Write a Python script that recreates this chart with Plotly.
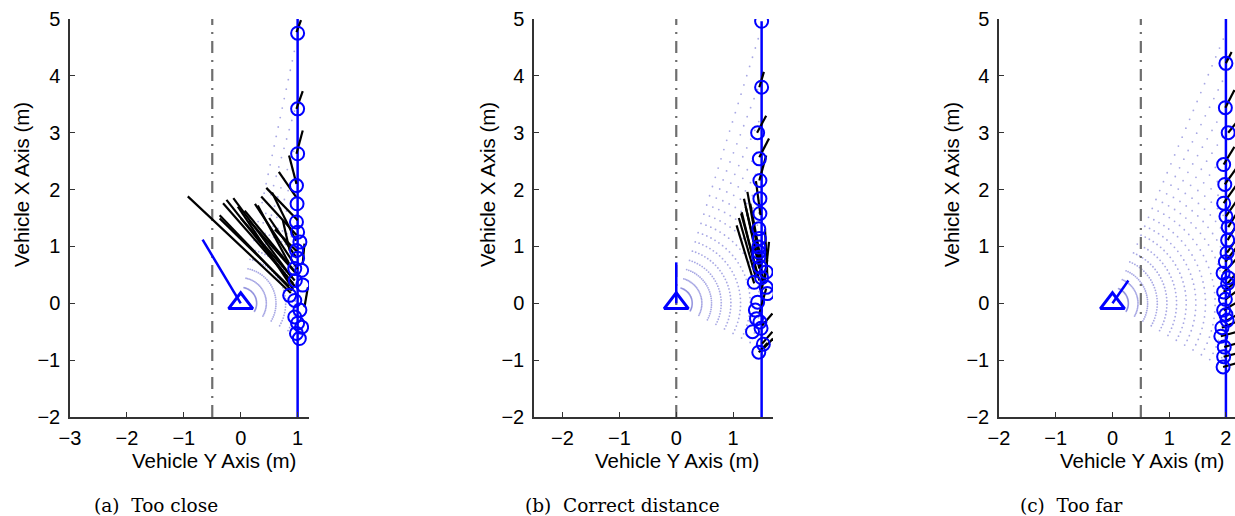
import numpy as np
import plotly.graph_objects as go

FIG_W, FIG_H = 1235, 516

# ---------------- data ----------------
captions = ["(a)\u00a0\u00a0Too close", "(b)\u00a0\u00a0Correct distance", "(c)\u00a0\u00a0Too far"]
x_title = "Vehicle Y Axis (m)"
y_title = "Vehicle X Axis (m)"

x_tick_vals = [[-3, -2, -1, 0, 1], [-2, -1, 0, 1], [-2, -1, 0, 1, 2]]
y_tick_vals = [-2, -1, 0, 1, 2, 3, 4, 5]
x_ranges = [[-3.0, 1.2], [-2.5, 1.7], [-2.0, 2.16]]
y_range = [-2.0, 5.0]

wall_x = [1.0, 1.5, 2.0]
wall_y_top = [5.0, 4.96, 5.0]
wall_y_bottom = [-2.0, -2.0, -2.0]
guide_x = [-0.5, 0.0, 0.5]

vehicle_x = [0.0, 0.0, 0.0]
vehicle_y = [0.0, 0.0, 0.0]
heading_x = [-0.67, 0.0, 0.28]
heading_y = [1.12, 0.72, 0.40]

# sonar fan: arc radii (m) and angular limits (deg) per panel
sonar_radii = [0.28, 0.45, 0.62, 0.79, 0.96, 1.13, 1.30, 1.47, 1.64, 1.81, 1.98,
               2.15, 2.32, 2.49, 2.66, 2.83, 3.00, 3.17, 3.34, 3.51, 3.68, 3.85,
               4.02, 4.19, 4.36, 4.53, 4.70, 4.87, 5.04, 5.21, 5.38, 5.55, 5.72, 5.89]
sonar_angle_lo = [-30.0, -28.0, -30.0]
sonar_angle_hi = [78.0, 73.5, 70.0]
sonar_angle_step = 3.6

# detected wall points (circles)
circ_x = [
    [1.00, 1.00, 1.00, 0.98, 0.99, 0.98, 1.00, 1.04, 0.98, 1.00, 0.95, 1.07, 0.96, 1.09,
     0.86, 0.95, 1.04, 0.95, 1.00, 1.07, 0.98, 1.03],
    [1.50, 1.50, 1.43, 1.46, 1.47, 1.47, 1.47, 1.45, 1.46, 1.45, 1.45, 1.47, 1.58, 1.37,
     1.58, 1.60, 1.43, 1.39, 1.41, 1.47, 1.34, 1.49, 1.53, 1.45, 1.45, 1.50],
    [2.00, 1.99, 2.04, 1.96, 1.98, 1.96, 2.00, 2.04, 2.03, 2.02, 1.99, 1.95, 2.03, 1.96,
     1.99, 1.96, 2.02, 1.93, 1.91, 1.97, 1.96, 1.95, 2.04, 2.00],
]
circ_y = [
    [4.75, 3.42, 2.63, 2.07, 1.75, 1.43, 1.25, 1.08, 0.93, 0.79, 0.61, 0.58, 0.40, 0.32,
     0.14, 0.05, -0.12, -0.24, -0.35, -0.42, -0.53, -0.62],
    [4.96, 3.80, 3.00, 2.54, 2.16, 1.84, 1.58, 1.31, 1.14, 0.99, 0.81, 0.64, 0.55, 0.37,
     0.28, 0.17, 0.02, -0.12, -0.27, -0.33, -0.50, -0.44, -0.72, -0.86, 0.90, 0.45],
    [4.22, 3.44, 3.00, 2.44, 2.09, 1.76, 1.53, 1.34, 1.11, 0.89, 0.73, 0.53, 0.35, 0.20,
     0.07, -0.12, -0.30, -0.43, -0.58, -0.77, -0.94, -1.12, 0.45, -0.20],
]

# black line segments (start -> end)
seg_x0 = [
    [-0.93, -0.37, -0.37, -0.31, -0.25, -0.13, 0.07, 0.25, 0.36, 0.45, 0.67, 0.85, 0.30,
     0.74, 1.12, 1.18, 0.98, 0.98, 0.98, 0.00, 0.15, 0.50, 0.60, -0.05, 0.55],
    [1.46, 1.42, 1.46, 1.46, 1.40, 1.25, 1.19, 1.15, 1.06, 1.30, 1.35, 1.63, 1.60, 1.58,
     1.51, 1.53, 1.45, 1.51, 1.56, 1.14, 1.10, 1.22],
    [2.00, 1.99, 2.04, 1.96, 1.98, 1.96, 2.00, 2.04, 2.03, 2.02, 1.99, 1.95, 2.03, 1.96,
     1.99, 1.96, 2.02, 1.93, 1.91, 1.97, 1.96, 1.95],
]
seg_y0 = [
    [1.88, 1.55, 1.49, 1.76, 1.82, 1.85, 1.63, 1.75, 1.88, 2.03, 2.31, 2.60, 1.72,
     1.46, 1.05, 0.28, 4.77, 3.42, 2.63, 1.50, 1.45, 1.50, 1.30, 1.70, 1.95],
    [3.80, 3.00, 2.57, 2.16, 2.15, 1.96, 1.84, 1.60, 1.37, 1.75, 1.45, 1.08, 0.76, 0.26,
     -0.71, -0.80, -0.86, -0.39, 1.30, 1.58, 1.50, 1.70],
    [4.22, 3.44, 3.00, 2.44, 2.09, 1.76, 1.53, 1.34, 1.11, 0.89, 0.73, 0.53, 0.35, 0.20,
     0.07, -0.12, -0.30, -0.43, -0.58, -0.77, -0.94, -1.12],
]
seg_x1 = [
    [0.88, 0.90, 0.85, 0.92, 0.95, 0.90, 1.00, 1.00, 0.98, 1.00, 0.98, 0.98, 0.85,
     0.86, 1.09, 1.12, 1.06, 1.09, 1.09, 0.95, 0.95, 0.98, 1.00, 0.92, 0.97],
    [1.54, 1.58, 1.63, 1.58, 1.48, 1.45, 1.46, 1.43, 1.37, 1.50, 1.52, 1.55, 1.49, 1.46,
     1.69, 1.70, 1.60, 1.69, 1.60, 1.46, 1.40, 1.48],
    [2.10, 2.15, 2.20, 2.15, 2.20, 2.20, 2.20, 2.20, 2.20, 2.20, 2.20, 2.20, 2.20, 2.20,
     2.20, 2.20, 2.20, 2.20, 2.20, 2.20, 2.20, 2.20],
]
seg_y1 = [
    [0.18, 0.22, 0.30, 0.35, 0.30, 0.45, 0.50, 0.60, 1.20, 1.46, 1.86, 2.10, 0.70,
     0.93, 0.70, -0.07, 4.98, 3.73, 3.04, 0.40, 0.55, 0.80, 0.90, 0.25, 1.10],
    [4.07, 3.30, 2.90, 2.60, 1.55, 0.87, 0.61, 0.46, 0.35, 0.70, 0.40, 0.35, 0.17, -0.18,
     -0.50, -0.62, -0.70, -0.18, 0.50, 0.40, 0.45, 0.60],
    [4.42, 3.75, 3.20, 2.75, 2.40, 2.10, 1.82, 1.60, 1.40, 1.15, 1.00, 0.80, 0.55, 0.40,
     0.22, 0.02, -0.20, -0.32, -0.50, -0.70, -0.88, -1.05],
]

# ---------------- layout geometry (pixels of the 1235x516 page) ----------------
plot_left_px = [70, 534, 999]
plot_right_px = [309, 773, 1235]
plot_top_px, plot_bottom_px = 19, 417
xtitle_center_px = [214, 677, 1142]
ytitle_center_px = [22, 488, 952]
caption_center_px = [156, 622, 1071]
xtitle_y_px, ytitle_y_px, caption_y_px = 460, 185, 505


def px_x(p):
    return p / FIG_W


def px_y(p):
    return 1 - p / FIG_H


BLUE = "rgb(0,0,255)"
AXC = "#333333"

fig = go.Figure()

for i in range(3):
    xa = "x" if i == 0 else f"x{i+1}"
    ya = "y" if i == 0 else f"y{i+1}"

    # sonar dots
    angs = np.deg2rad(np.arange(sonar_angle_lo[i], sonar_angle_hi[i] + 1e-6, sonar_angle_step))
    R, A = np.meshgrid(np.array(sonar_radii), angs)
    dx = (R * np.cos(A)).ravel()
    dy = (R * np.sin(A)).ravel()
    keep = (dx < wall_x[i] - 0.04) & (dy <= 5.0)
    fig.add_trace(go.Scatter(x=dx[keep], y=dy[keep], mode="markers", xaxis=xa, yaxis=ya,
                             marker=dict(size=1.8, color="rgba(110,110,210,0.6)"),
                             hoverinfo="skip", showlegend=False))

    # dash-dot guide line
    fig.add_trace(go.Scatter(x=[guide_x[i], guide_x[i]], y=[y_range[0], y_range[1]],
                             mode="lines", xaxis=xa, yaxis=ya,
                             line=dict(color="rgb(110,110,110)", width=2.2,
                                       dash="12px,7px,2px,7px"),
                             hoverinfo="skip", showlegend=False))

    # wall line
    fig.add_trace(go.Scatter(x=[wall_x[i], wall_x[i]], y=[wall_y_bottom[i], wall_y_top[i]],
                             mode="lines", xaxis=xa, yaxis=ya,
                             line=dict(color=BLUE, width=2.5),
                             hoverinfo="skip", showlegend=False))

    # black segments
    sx, sy = [], []
    for a, b, c, d in zip(seg_x0[i], seg_y0[i], seg_x1[i], seg_y1[i]):
        sx += [a, c, None]
        sy += [b, d, None]
    fig.add_trace(go.Scatter(x=sx, y=sy, mode="lines", xaxis=xa, yaxis=ya,
                             line=dict(color="black", width=2.2),
                             hoverinfo="skip", showlegend=False))

    # circles
    fig.add_trace(go.Scatter(x=circ_x[i], y=circ_y[i], mode="markers", xaxis=xa, yaxis=ya,
                             marker=dict(symbol="circle-open", size=13, color=BLUE,
                                         line=dict(color=BLUE, width=2)),
                             cliponaxis=True, hoverinfo="skip", showlegend=False))

    # heading line
    fig.add_trace(go.Scatter(x=[vehicle_x[i], heading_x[i]], y=[vehicle_y[i], heading_y[i]],
                             mode="lines", xaxis=xa, yaxis=ya,
                             line=dict(color=BLUE, width=2.5),
                             hoverinfo="skip", showlegend=False))
    # vehicle triangle
    fig.add_trace(go.Scatter(x=[vehicle_x[i]], y=[vehicle_y[i]], mode="markers",
                             xaxis=xa, yaxis=ya,
                             marker=dict(symbol="triangle-up-open", size=21, color=BLUE,
                                         line=dict(color=BLUE, width=3)),
                             hoverinfo="skip", showlegend=False))

layout = dict(
    width=FIG_W, height=FIG_H, autosize=False,
    margin=dict(l=0, r=0, t=0, b=0, autoexpand=False),
    paper_bgcolor="white", plot_bgcolor="white",
    font=dict(family="Liberation Sans, Arial, sans-serif", size=20, color="black"),
    showlegend=False,
)

y_dom = [px_y(plot_bottom_px), px_y(plot_top_px)]
annotations = []
for i in range(3):
    sfx = "" if i == 0 else str(i + 1)
    layout["xaxis" + sfx] = dict(
        domain=[max(0.0, px_x(plot_left_px[i])), min(1.0, px_x(plot_right_px[i]))],
        range=x_ranges[i], tickvals=x_tick_vals[i], automargin=False,
        ticks="inside", ticklen=5, tickwidth=1.3, tickcolor=AXC,
        showline=True, linecolor=AXC, linewidth=1.5, mirror=False,
        showgrid=False, zeroline=False, anchor="y" + sfx,
        tickfont=dict(size=20, color="black"), ticklabelstandoff=2,
    )
    layout["yaxis" + sfx] = dict(
        domain=y_dom, range=y_range, tickvals=y_tick_vals, automargin=False,
        ticks="inside", ticklen=5, tickwidth=1.3, tickcolor=AXC,
        showline=True, linecolor=AXC, linewidth=1.5, mirror=False,
        showgrid=False, zeroline=False, anchor="x" + sfx,
        tickfont=dict(size=20, color="black"), ticklabelstandoff=4,
    )
    annotations.append(dict(text=x_title, x=px_x(xtitle_center_px[i]), y=px_y(xtitle_y_px),
                            xref="paper", yref="paper", xanchor="center", yanchor="middle",
                            showarrow=False, font=dict(size=20.5, color="black")))
    annotations.append(dict(text=y_title, x=px_x(ytitle_center_px[i]), y=px_y(ytitle_y_px),
                            xref="paper", yref="paper", xanchor="center", yanchor="middle",
                            textangle=-90, showarrow=False,
                            font=dict(size=20.5, color="black")))
    annotations.append(dict(text=captions[i], x=px_x(caption_center_px[i]), y=px_y(caption_y_px),
                            xref="paper", yref="paper", xanchor="center", yanchor="middle",
                            showarrow=False,
                            font=dict(family="DejaVu Serif, serif", size=18.5, color="black")))
layout["annotations"] = annotations

fig.update_layout(**layout)
# place the figure flush at the page corner (no default body margin / scrollbars)
fig.write_html("out.html",
               config={"displayModeBar": False},
               post_script="document.body.style.margin='0';"
                           "document.body.style.overflow='hidden';")
